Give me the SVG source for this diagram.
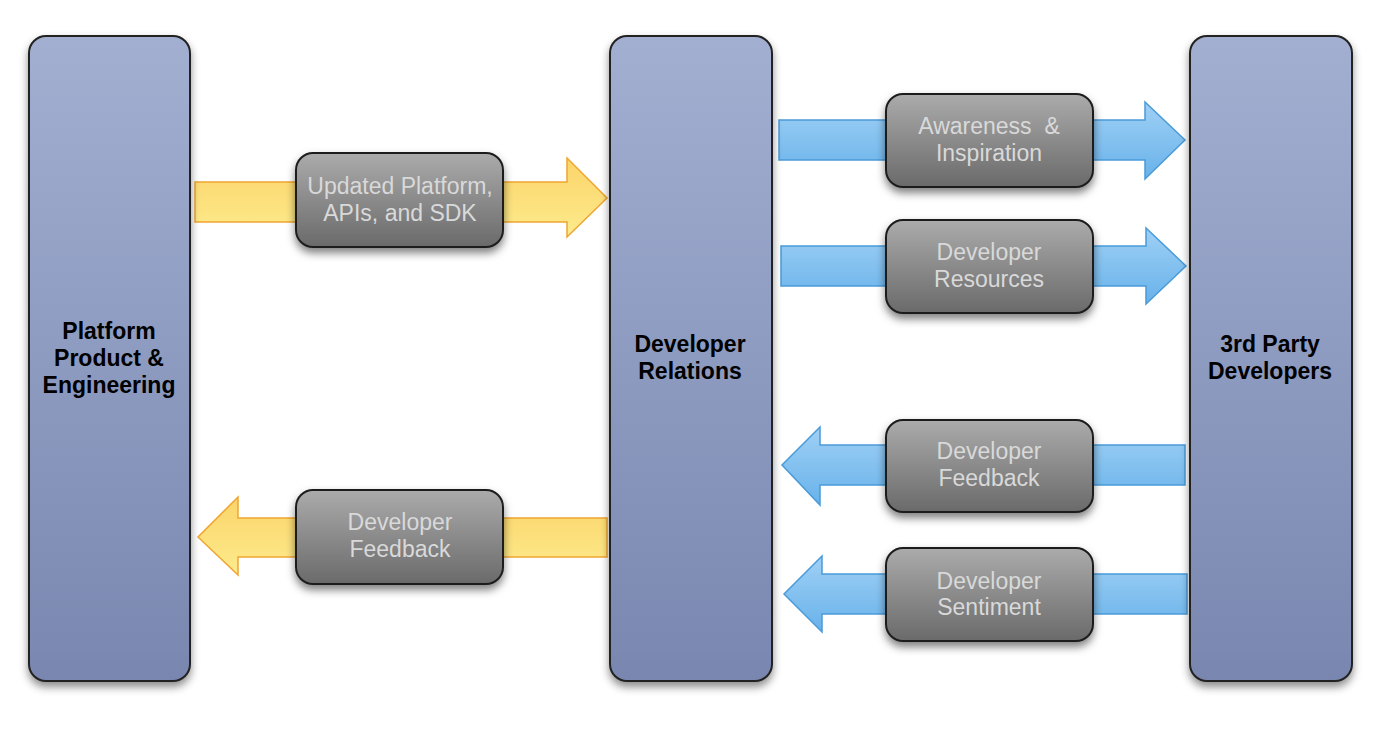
<svg xmlns="http://www.w3.org/2000/svg" width="1380" height="730" viewBox="0 0 1380 730">
<defs>
<linearGradient id="gCol" x1="0" y1="0" x2="0" y2="1"><stop offset="0" stop-color="#a2afd1"/><stop offset="1" stop-color="#7987b0"/></linearGradient>
<linearGradient id="gBox" x1="0" y1="0" x2="0" y2="1"><stop offset="0" stop-color="#ababab"/><stop offset="1" stop-color="#6a6a6a"/></linearGradient>
<linearGradient id="gY" x1="0" y1="0" x2="0" y2="1"><stop offset="0" stop-color="#fbd46a"/><stop offset="1" stop-color="#fdeb8c"/></linearGradient>
<linearGradient id="gB" x1="0" y1="0" x2="0" y2="1"><stop offset="0" stop-color="#9fd0f5"/><stop offset="1" stop-color="#68b2ea"/></linearGradient>
<filter id="sh" x="-20%" y="-10%" width="140%" height="130%"><feDropShadow dx="0" dy="5" stdDeviation="4" flood-color="#000" flood-opacity="0.45"/></filter>
<filter id="sh2" x="-20%" y="-20%" width="140%" height="150%"><feDropShadow dx="0" dy="5" stdDeviation="4" flood-color="#000" flood-opacity="0.5"/></filter>
</defs>
<style>
.col{fill:url(#gCol);stroke:#222;stroke-width:2;filter:url(#sh)}
.box{fill:url(#gBox);stroke:#1e1e1e;stroke-width:2;filter:url(#sh2)}
.ya{fill:url(#gY);stroke:#f0a531;stroke-width:1.5}
.ba{fill:url(#gB);stroke:#4a9bd9;stroke-width:1.5}
.ct{font-family:"Liberation Sans",Arial,sans-serif;font-weight:bold;font-size:23px;fill:#000;text-anchor:middle}
.bt{font-family:"Liberation Sans",Arial,sans-serif;font-size:23px;fill:#d9d9d9;text-anchor:middle}
</style>
<rect width="1380" height="730" fill="#fff"/>
<g id="connectors">
<path class="ya" d="M195,182 L567,182 L567,158 L607,198 L567,237 L567,222 L195,222 Z"/>
<path class="ya" d="M607,518 L238,518 L238,497 L198,537 L238,575 L238,557 L607,557 Z"/>
<path class="ba" d="M779,120 L1145,120 L1145,102 L1185,140 L1145,179 L1145,160 L779,160 Z"/>
<path class="ba" d="M781,246 L1146,246 L1146,228 L1186,266 L1146,304 L1146,286 L781,286 Z"/>
<path class="ba" d="M1185,445 L820,445 L820,427 L782,465 L820,505 L820,485 L1185,485 Z"/>
<path class="ba" d="M1187,574 L822,574 L822,556 L784,594 L822,632 L822,614 L1187,614 Z"/>
</g>
<g id="platform"><rect class="col" x="29" y="36" width="161" height="645" rx="17"/>
<text class="ct" x="109" y="339">Platform</text><text class="ct" x="109" y="366">Product &amp;</text><text class="ct" x="109" y="393">Engineering</text></g>
<g id="devrel"><rect class="col" x="610" y="36" width="162" height="645" rx="17"/>
<text class="ct" x="690" y="352">Developer</text><text class="ct" x="690" y="379">Relations</text></g>
<g id="thirdparty"><rect class="col" x="1190" y="36" width="162" height="645" rx="17"/>
<text class="ct" x="1270" y="352">3rd Party</text><text class="ct" x="1270" y="379">Developers</text></g>
<g id="updated"><rect class="box" x="296" y="153" width="207" height="94" rx="17"/>
<text class="bt" x="400" y="194">Updated Platform,</text><text class="bt" x="400" y="221">APIs, and SDK</text></g>
<g id="feedbackLeft"><rect class="box" x="296" y="490" width="207" height="94" rx="17"/>
<text class="bt" x="400" y="530">Developer</text><text class="bt" x="400" y="557">Feedback</text></g>
<g id="awareness"><rect class="box" x="886" y="94" width="207" height="93" rx="17"/>
<text class="bt" x="989" y="134">Awareness &#160;&amp;</text><text class="bt" x="989" y="161">Inspiration</text></g>
<g id="resources"><rect class="box" x="886" y="220" width="207" height="93" rx="17"/>
<text class="bt" x="989" y="260">Developer</text><text class="bt" x="989" y="287">Resources</text></g>
<g id="feedbackRight"><rect class="box" x="886" y="420" width="207" height="92" rx="17"/>
<text class="bt" x="989" y="459">Developer</text><text class="bt" x="989" y="486">Feedback</text></g>
<g id="sentiment"><rect class="box" x="886" y="548" width="207" height="93" rx="17"/>
<text class="bt" x="989" y="589">Developer</text><text class="bt" x="989" y="615">Sentiment</text></g>
</svg>
